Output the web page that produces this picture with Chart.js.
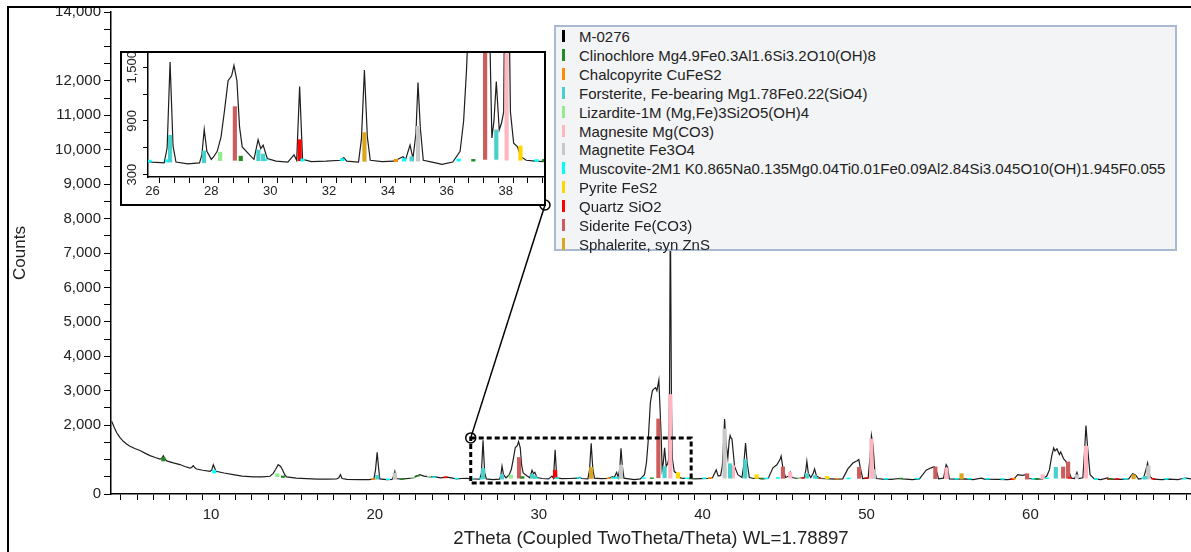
<!DOCTYPE html>
<html>
<head>
<meta charset="utf-8">
<script src="https://cdn.jsdelivr.net/npm/chart.js@4.4.1/dist/chart.umd.min.js"></script>
<style>
  html, body { margin: 0; padding: 0; background: #fff; }
  #wrap { position: relative; width: 1191px; height: 552px; overflow: hidden; font-family: "Liberation Sans", Arial, sans-serif; }
  #main { position: absolute; left: 0; top: 0; }
  #insetBox { position: absolute; left: 120px; top: 51px; width: 426px; height: 155px; border: 2px solid #000; box-sizing: border-box; background: #fff; }
  #insetBox canvas { position: absolute; left: 0; top: 0; }
  #legend { position: absolute; left: 554px; top: 25px; width: 623px; height: 226px; border: 2px solid #a9b9d2; box-sizing: border-box; background: #f3f4f6; }
  .row { position: absolute; left: 0; height: 19px; line-height: 19px; font-size: 15px; color: #222; white-space: nowrap; }
  .mark { position: absolute; left: 6px; top: 3px; width: 3px; height: 12px; }
  .txt { position: absolute; left: 23px; top: 0; }
</style>
</head>
<body>
<div id="wrap">
  <canvas id="main" width="1191" height="552"></canvas>
  <div id="insetBox"><canvas id="inset" width="422" height="151"></canvas></div>
  <div id="legend"></div>
</div>
<script>
// measured pattern M-0276 (2Theta, counts)
const twoTheta = [
  3.94, 4.1, 4.25, 4.45, 4.65, 4.85, 5.06, 5.35, 5.67, 6.0, 6.28, 6.6, 6.89, 7.0, 7.09, 7.2, 7.3, 7.7, 8.11, 8.4,
  8.72, 8.82, 8.92, 9.02, 9.12, 9.5, 9.94, 10.05, 10.14, 10.22, 10.3, 10.8, 11.36, 11.9, 12.58, 13.1, 13.6, 13.8, 13.95, 14.1,
  14.25, 14.37, 14.5, 14.61, 15.2, 15.83, 16.5, 17.1, 17.66, 17.8, 17.9, 18.0, 18.3, 19.08, 19.6, 19.94, 20.04, 20.14, 20.22, 20.3,
  20.71, 21.05, 21.15, 21.22, 21.3, 21.6, 22.33, 22.74, 23.0, 23.35, 23.7, 24.0, 24.4, 24.98, 25.3, 25.59, 26.0, 26.4, 26.5, 26.6,
  26.7, 26.8, 27.2, 27.6, 27.68, 27.76, 27.85, 28.0, 28.08, 28.2, 28.33, 28.45, 28.57, 28.69, 28.77, 28.87, 28.96, 29.05, 29.3, 29.45,
  29.59, 29.68, 29.76, 29.9, 30.2, 30.6, 30.81, 30.9, 31.0, 31.1, 31.4, 31.9, 32.4, 32.5, 32.6, 33.0, 33.1, 33.2, 33.3, 33.4,
  33.8, 34.2, 34.51, 34.6, 34.75, 34.85, 34.95, 35.02, 35.1, 35.2, 35.5, 35.84, 36.2, 36.45, 36.57, 36.67, 36.81, 36.93, 37.0, 37.13,
  37.21, 37.33, 37.4, 37.47, 37.53, 37.6, 37.68, 37.78, 37.86, 37.93, 37.98, 38.03, 38.1, 38.16, 38.27, 38.4, 38.51, 38.7, 39.0, 39.3,
  39.5, 39.9, 40.3, 40.6, 40.83, 40.95, 41.1, 41.2, 41.28, 41.34, 41.42, 41.54, 41.62, 41.68, 41.74, 41.79, 41.87, 41.95, 42.15, 42.4,
  42.5, 42.62, 42.72, 42.85, 43.1, 43.3, 43.6, 44.0, 44.29, 44.53, 44.72, 44.79, 44.9, 45.06, 45.25, 45.34, 45.45, 45.8, 46.2, 46.3,
  46.36, 46.45, 46.6, 46.75, 46.83, 46.95, 47.2, 47.8, 48.2, 48.55, 48.86, 49.17, 49.4, 49.53, 49.62, 49.77, 50.1, 50.22, 50.3, 50.4,
  50.5, 50.6, 51.0, 51.5, 52.0, 52.2, 52.8, 53.23, 53.64, 53.94, 54.14, 54.25, 54.4, 54.7, 54.86, 54.95, 55.05, 55.5, 56.0, 56.5,
  57.0, 57.2, 58.0, 58.6, 59.0, 59.23, 59.5, 59.73, 59.9, 60.3, 60.75, 61.0, 61.16, 61.3, 61.42, 61.5, 61.62, 61.77, 61.85, 62.03,
  62.17, 62.34, 62.5, 62.7, 62.84, 62.95, 63.2, 63.3, 63.39, 63.5, 63.64, 63.9, 64.3, 64.71, 64.9, 65.5, 66.0, 66.24, 66.4, 66.6,
  66.9, 67.05, 67.15, 67.3, 67.5, 68.0, 68.5, 69.0, 69.29, 69.5, 69.8
];
const counts = [
  2110, 1930, 1780, 1640, 1530, 1450, 1385, 1320, 1265, 1180, 1115, 1060, 1015, 1030, 1110, 1010, 960, 905, 855, 800,
  755, 770, 825, 760, 725, 690, 660, 700, 850, 760, 660, 610, 565, 520, 495, 500, 515, 600, 720, 850,
  800, 700, 560, 495, 460, 445, 430, 432, 436, 470, 560, 450, 425, 415, 420, 430, 700, 1210, 800, 440,
  415, 425, 520, 650, 450, 430, 465, 560, 520, 500, 495, 470, 490, 440, 450, 455, 440, 430, 600, 1560,
  620, 440, 420, 430, 520, 805, 560, 470, 500, 560, 720, 1020, 1350, 1405, 1520, 1350, 830, 610, 520, 470,
  690, 590, 630, 480, 450, 440, 520, 460, 1285, 470, 445, 450, 460, 490, 450, 440, 700, 1470, 720, 460,
  445, 450, 500, 470, 630, 480, 760, 1330, 820, 460, 440, 415, 440, 560, 900, 1480, 2650, 2990, 3040, 3090,
  3000, 3310, 2500, 1680, 710, 900, 1340, 800, 880, 1000, 3000, 8400, 2500, 1000, 650, 610, 500, 460, 450, 445,
  440, 445, 450, 470, 700, 520, 540, 800, 1500, 2180, 1500, 1050, 1550, 1700, 1620, 1600, 1200, 800, 560, 480,
  800, 1480, 900, 480, 450, 470, 440, 450, 760, 850, 1000, 1100, 760, 480, 520, 630, 480, 450, 470, 700,
  950, 600, 480, 600, 730, 520, 450, 440, 430, 440, 730, 900, 960, 1000, 760, 450, 460, 1100, 1700, 1400,
  700, 450, 430, 425, 450, 440, 420, 440, 690, 760, 790, 700, 440, 460, 850, 780, 440, 430, 440, 420,
  460, 430, 425, 420, 440, 560, 540, 560, 450, 430, 440, 520, 700, 1100, 1340, 1250, 1310, 1145, 1220, 1020,
  950, 660, 460, 450, 630, 450, 470, 1200, 1990, 1300, 560, 440, 420, 470, 430, 425, 440, 590, 560, 430,
  460, 700, 900, 500, 430, 420, 430, 420, 450, 460, 440
];

// reference sticks per phase: [2Theta, base counts, top counts]
const clinochlore = [[7.09, 960, 1060], [14.4, 480, 525], [21.7, 428, 455], [22.6, 515, 540], [29.0, 455, 506], [36.9, 450, 470], [39.3, 445, 470], [43.6, 440, 465], [52.1, 440, 462], [60.4, 430, 455], [64.9, 428, 452]];
const chalcopyrite = [[19.9, 420, 445], [34.27, 445, 470], [40.45, 450, 480], [48.2, 430, 452], [59.0, 438, 460]];
const forsterite = [[20.15, 430, 540], [26.6, 440, 740], [27.75, 432, 565], [29.6, 455, 575], [29.76, 455, 530], [34.8, 452, 500], [37.68, 470, 800], [41.67, 460, 880], [42.6, 460, 1000], [46.36, 460, 590], [46.85, 460, 535], [61.55, 460, 775], [67.0, 432, 515]];
const lizardite = [[14.05, 500, 590], [22.3, 462, 482], [23.3, 490, 510], [28.3, 455, 550], [45.9, 450, 470]];
const magnesite = [[38.03, 460, 2890], [41.85, 460, 825], [45.34, 460, 630], [50.3, 460, 1600], [54.88, 445, 760], [60.75, 440, 560], [63.39, 460, 1390]];
const magnetite = [[21.22, 425, 610], [35.02, 450, 840], [41.34, 460, 1890], [50.45, 455, 710], [62.84, 455, 560], [67.2, 435, 820]];
const muscovite = [[10.2, 610, 690], [20.8, 415, 440], [23.6, 480, 500], [25.0, 440, 462], [25.9, 440, 462], [26.5, 440, 468], [29.82, 455, 475], [31.1, 450, 475], [32.45, 455, 478], [34.55, 450, 480], [36.4, 450, 475], [39.05, 445, 468], [40.1, 448, 472], [43.9, 445, 470], [44.6, 455, 480], [46.95, 452, 475], [48.9, 440, 465], [51.2, 428, 452], [53.1, 435, 458], [55.5, 430, 455], [56.3, 432, 455], [57.4, 430, 455], [58.3, 425, 450], [60.2, 430, 455], [61.0, 445, 470], [64.0, 420, 445], [65.8, 430, 455], [66.9, 440, 468], [68.3, 425, 450], [69.4, 430, 455]];
const pyrite = [[38.5, 460, 620], [43.3, 450, 560], [47.6, 440, 515]];
const quartz = [[24.3, 470, 500], [31.0, 455, 690], [46.1, 455, 478], [47.1, 452, 472], [50.0, 455, 475], [58.9, 425, 450], [62.4, 455, 478], [64.8, 420, 445], [65.3, 425, 450], [67.5, 430, 455]];
const siderite = [[28.8, 460, 1060], [37.3, 470, 2180], [44.9, 455, 785], [49.55, 455, 775], [54.2, 445, 785], [59.8, 432, 590], [62.0, 460, 785], [62.3, 460, 930]];
const sphalerite = [[33.2, 448, 770], [55.8, 432, 590], [66.3, 440, 560]];

const sampleName = "M-0276";
const phaseNames = [
  "Clinochlore Mg4.9Fe0.3Al1.6Si3.2O10(OH)8",
  "Chalcopyrite CuFeS2",
  "Forsterite, Fe-bearing Mg1.78Fe0.22(SiO4)",
  "Lizardite-1M (Mg,Fe)3Si2O5(OH)4",
  "Magnesite Mg(CO3)",
  "Magnetite Fe3O4",
  "Muscovite-2M1 K0.865Na0.135Mg0.04Ti0.01Fe0.09Al2.84Si3.045O10(OH)1.945F0.055",
  "Pyrite FeS2",
  "Quartz SiO2",
  "Siderite Fe(CO3)",
  "Sphalerite, syn ZnS"
];
const phaseColors = ["#228b22", "#ff8c00", "#48d1cc", "#90ee90", "#ffb6c1", "#c8c8c8", "#00ffff", "#ffd700", "#ff0000", "#cd5c5c", "#daa520"];
const phaseSticks = [clinochlore, chalcopyrite, forsterite, lizardite, magnesite, magnetite, muscovite, pyrite, quartz, siderite, sphalerite];

const xTickLabels = [10, 20, 30, 40, 50, 60];
const yTickLabels = [0, 2000, 3000, 4000, 5000, 6000, 7000, 8000, 9000, 10000, 11000, 12000, 14000];
const insetXTickLabels = [26, 28, 30, 32, 34, 36, 38];
const insetYTickLabels = [300, 900, 1500];
const zoomRange = { x0: 25.85, x1: 39.3, y0: 320, y1: 1630 };

Chart.defaults.font.family = '"Liberation Sans", Arial, sans-serif';
Chart.defaults.color = "#222";

function buildDatasets() {
  const sets = [{
    type: "line",
    label: sampleName,
    data: twoTheta.map((x, i) => ({ x: x, y: counts[i] })),
    borderColor: "#1e1e1e",
    borderWidth: 1.2,
    pointRadius: 0,
    tension: 0,
    fill: false,
    order: 2
  }];
  phaseSticks.forEach((sticks, i) => {
    sets.push({
      type: "bar",
      label: phaseNames[i],
      data: sticks.map(s => ({ x: s[0], y: [s[1], s[2]] })),
      backgroundColor: phaseColors[i],
      borderWidth: 0,
      barThickness: 3.5,
      grouped: false,
      order: 1
    });
  });
  return sets;
}

// legend box
const legend = document.getElementById("legend");
[sampleName].concat(phaseNames).forEach((name, i) => {
  const row = document.createElement("div");
  row.className = "row";
  row.style.top = (i * 18.9) + "px";
  row.innerHTML = '<span class="mark" style="background:' + (i === 0 ? "#000" : phaseColors[i - 1]) + '"></span><span class="txt"></span>';
  row.querySelector(".txt").textContent = name;
  legend.appendChild(row);
});

const framePlugin = {
  id: "frame",
  afterDraw(chart) {
    const ctx = chart.ctx;
    ctx.save();
    ctx.strokeStyle = "#000";
    ctx.lineWidth = 2;
    ctx.beginPath();
    ctx.moveTo(8, 552);
    ctx.lineTo(8, 7);
    ctx.lineTo(1191, 7);
    ctx.stroke();
    ctx.restore();
  }
};

const zoomBoxPlugin = {
  id: "zoomBox",
  afterDatasetsDraw(chart) {
    const ctx = chart.ctx;
    const xs = chart.scales.x, ys = chart.scales.y;
    const left = xs.getPixelForValue(zoomRange.x0), right = xs.getPixelForValue(zoomRange.x1);
    const top = ys.getPixelForValue(zoomRange.y1), bottom = ys.getPixelForValue(zoomRange.y0);
    ctx.save();
    ctx.strokeStyle = "#000";
    ctx.lineWidth = 3;
    ctx.setLineDash([5, 3]);
    ctx.strokeRect(left, top, right - left, bottom - top);
    ctx.setLineDash([]);
    ctx.lineWidth = 1.5;
    ctx.beginPath();
    ctx.moveTo(left, top);
    ctx.lineTo(545, 205);
    ctx.stroke();
    ctx.beginPath();
    ctx.arc(left, top, 5, 0, Math.PI * 2);
    ctx.stroke();
    ctx.beginPath();
    ctx.arc(545, 205, 5, 0, Math.PI * 2);
    ctx.stroke();
    ctx.restore();
  }
};

new Chart(document.getElementById("main"), {
  type: "line",
  data: { datasets: buildDatasets() },
  options: {
    responsive: false,
    animation: false,
    devicePixelRatio: 1,
    layout: { padding: { top: 12, right: 0, bottom: 0, left: 0 } },
    plugins: { legend: { display: false }, tooltip: { enabled: false } },
    scales: {
      x: {
        type: "linear",
        min: 3.9,
        max: 69.8,
        offset: false,
        afterBuildTicks: s => {
          const t = [];
          for (let v = 4; v <= 69; v++) t.push({ value: v });
          s.ticks = t;
        },
        ticks: {
          autoSkip: false, maxRotation: 0, minRotation: 0, padding: 6,
          font: { size: 15 },
          callback: v => xTickLabels.includes(v) ? String(v) : ""
        },
        grid: { drawOnChartArea: false, drawTicks: true, tickLength: 6, color: "#000" },
        border: { color: "#000", width: 1.5 },
        title: { display: true, text: "2Theta (Coupled TwoTheta/Theta) WL=1.78897", font: { size: 18.6 }, padding: { top: 2, bottom: 2 } },
        afterFit: s => { s.height = 58; }
      },
      y: {
        type: "linear",
        min: 0,
        max: 14000,
        afterBuildTicks: s => {
          const t = [];
          for (let v = 0; v <= 14000; v += 500) t.push({ value: v });
          s.ticks = t;
        },
        ticks: {
          autoSkip: false, padding: 3,
          font: { size: 15 },
          callback: v => yTickLabels.includes(v) ? v.toLocaleString("en-US") : ""
        },
        grid: { drawOnChartArea: false, drawTicks: true, tickLength: 7, color: "#000" },
        border: { color: "#000", width: 1.5 },
        title: { display: true, text: "Counts", font: { size: 17 }, padding: { top: 10, bottom: 0 } },
        afterFit: s => { s.width = 111; }
      }
    }
  },
  plugins: [framePlugin, zoomBoxPlugin]
});

// rotated y labels of the inset
const insetLabelsPlugin = {
  id: "insetLabels",
  afterDraw(chart) {
    const ctx = chart.ctx;
    const ys = chart.scales.y;
    ctx.save();
    ctx.fillStyle = "#222";
    ctx.font = '13px "Liberation Sans", Arial, sans-serif';
    ctx.textAlign = "center";
    ctx.textBaseline = "middle";
    insetYTickLabels.forEach(v => {
      ctx.save();
      ctx.translate(10, ys.getPixelForValue(v));
      ctx.rotate(-Math.PI / 2);
      ctx.fillText(v.toLocaleString("en-US"), 0, 0);
      ctx.restore();
    });
    ctx.restore();
  }
};

new Chart(document.getElementById("inset"), {
  type: "line",
  data: { datasets: buildDatasets() },
  options: {
    responsive: false,
    animation: false,
    devicePixelRatio: 1,
    layout: { padding: 0 },
    plugins: { legend: { display: false }, tooltip: { enabled: false } },
    scales: {
      x: {
        type: "linear",
        min: zoomRange.x0,
        max: zoomRange.x1,
        offset: false,
        afterBuildTicks: s => {
          const t = [];
          for (let v = 26; v <= 39; v += 0.5) t.push({ value: v });
          s.ticks = t;
        },
        ticks: {
          autoSkip: false, maxRotation: 0, minRotation: 0, padding: 1,
          font: { size: 13 },
          callback: v => insetXTickLabels.includes(v) ? String(v) : ""
        },
        grid: { drawOnChartArea: false, drawTicks: true, tickLength: 6, color: "#000" },
        border: { color: "#000", width: 1.5 },
        afterFit: s => { s.height = 27; }
      },
      y: {
        type: "linear",
        min: 273,
        max: 1660,
        afterBuildTicks: s => {
          s.ticks = [300, 600, 900, 1200, 1500].map(v => ({ value: v }));
        },
        ticks: { display: false },
        grid: { drawOnChartArea: false, drawTicks: true, tickLength: 5, color: "#000" },
        border: { color: "#000", width: 1.5 },
        afterFit: s => { s.width = 26; }
      }
    }
  },
  plugins: [insetLabelsPlugin]
});
</script>
</body>
</html>
